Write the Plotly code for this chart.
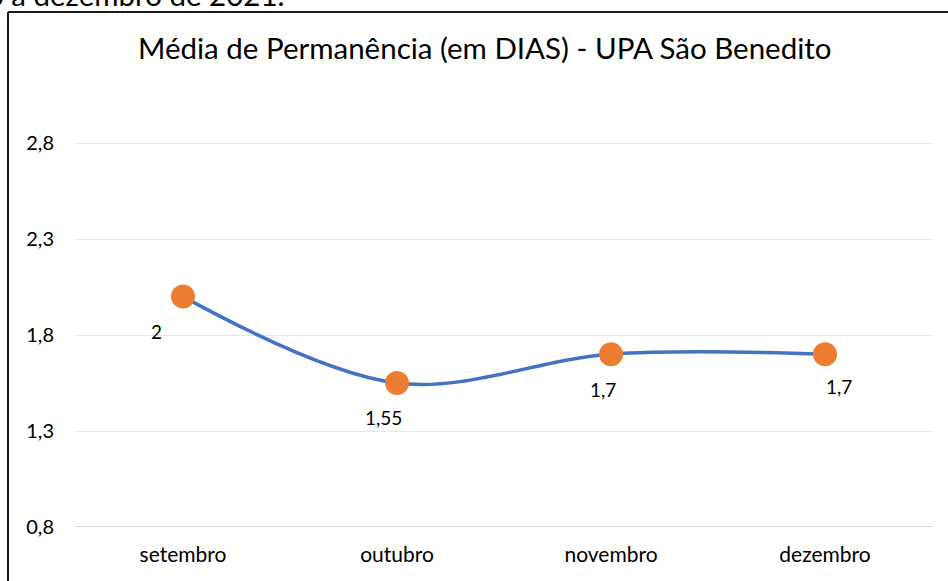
import plotly.graph_objects as go

categories = ["setembro", "outubro", "novembro", "dezembro"]
values = [2.0, 1.55, 1.7, 1.7]
value_labels = ["2", "1,55", "1,7", "1,7"]
ytick_vals = [0.8, 1.3, 1.8, 2.3, 2.8]
ytick_text = ["0,8", "1,3", "1,8", "2,3", "2,8"]
title_text = "Média de Permanência (em DIAS) - UPA São Benedito"
top_text = "o a dezembro de 2021."

# label offsets (style)
label_shift_x = [-27, -14, -8, 14]
label_shift_y = [-35, -34, -35, -32]

FONT = "Lato"

fig = go.Figure()
fig.add_trace(go.Scatter(
    x=categories, y=values, mode="lines+markers",
    line=dict(color="#4472C4", width=3.5, shape="spline", smoothing=1.0),
    marker=dict(color="#ED7D31", size=24, line=dict(width=0)),
    hoverinfo="skip", showlegend=False, cliponaxis=False,
))

for c, v, t, dx, dy in zip(categories, values, value_labels, label_shift_x, label_shift_y):
    fig.add_annotation(x=c, y=v, text=t, showarrow=False, xshift=dx, yshift=dy,
                       font=dict(family=FONT, size=19, color="#000000"))

W, H = 948, 581
L, R, T, B = 76, 16, 47, 54
pw = W - L - R
ph = H - T - B

def px_x(p):
    return (p - L) / pw

def px_y(p):
    return (H - B - p) / ph

# title
fig.add_annotation(xref="paper", yref="paper", x=px_x(485), y=px_y(47),
                   xanchor="center", yanchor="middle", showarrow=False,
                   text=title_text, font=dict(family=FONT, size=29.5, color="#000000"))

# cut-off text at top
fig.add_annotation(xref="paper", yref="paper", x=px_x(286), y=px_y(-6),
                   xanchor="right", yanchor="middle", showarrow=False,
                   text=top_text, font=dict(family=FONT, size=29.5, color="#000000"))

# chart border (top and left)
fig.add_shape(type="line", xref="paper", yref="paper",
              x0=px_x(8), x1=px_x(960), y0=px_y(12), y1=px_y(12),
              line=dict(color="#1a1a1a", width=2))
fig.add_shape(type="line", xref="paper", yref="paper",
              x0=px_x(8), x1=px_x(8), y0=px_y(12), y1=px_y(600),
              line=dict(color="#1a1a1a", width=2))

fig.update_layout(
    width=W, height=H,
    margin=dict(l=L, r=R, t=T, b=B, pad=0),
    paper_bgcolor="white", plot_bgcolor="white",
    font=dict(family=FONT, color="#000000"),
    xaxis=dict(type="category", range=[-0.5, 3.5], showgrid=False, zeroline=False,
               showline=False, ticks="", tickfont=dict(family=FONT, size=21, color="#000000"),
               ticklabelstandoff=13, fixedrange=True),
    yaxis=dict(range=[0.8, 3.3], tickvals=ytick_vals, ticktext=ytick_text,
               showgrid=True, gridcolor="#E6E6E6", gridwidth=1,
               zeroline=False, showline=False, ticks="",
               tickfont=dict(family=FONT, size=20, color="#000000"),
               ticklabelstandoff=21, fixedrange=True),
)

# bottom axis line at 0.8
fig.add_shape(type="line", xref="paper", yref="y", x0=0, x1=1, y0=0.8, y1=0.8,
              line=dict(color="#C8C8C8", width=1.5), layer="above")

fig.write_html("out.html", config={"displayModeBar": False},
               post_script="document.body.style.margin='0';document.body.style.overflow='hidden';")
